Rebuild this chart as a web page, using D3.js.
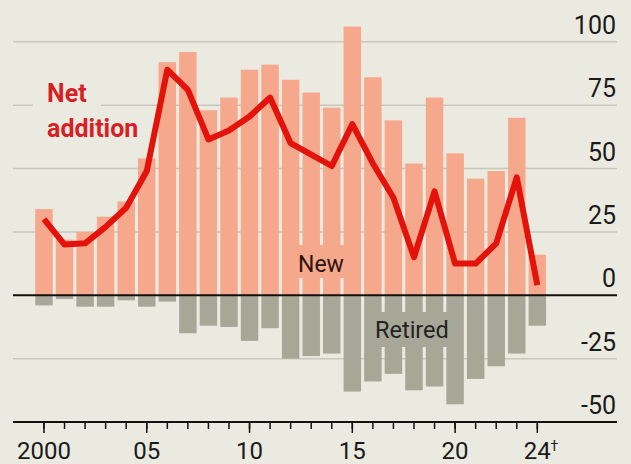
<!DOCTYPE html>
<html>
<head>
<meta charset="utf-8">
<script src="https://cdn.jsdelivr.net/npm/d3@7"></script>
<style>
  html, body { margin: 0; padding: 0; background: #ebeae0; }
  svg { display: block; font-family: Roboto, "Noto Sans", sans-serif; }
</style>
</head>
<body>
<div id="chart"></div>
<script>
  // 1. Data

  const years = [2000, 2001, 2002, 2003, 2004, 2005, 2006, 2007, 2008, 2009,
    2010, 2011, 2012, 2013, 2014, 2015, 2016, 2017, 2018, 2019,
    2020, 2021, 2022, 2023, 2024]
  const newPlants = [34, 22, 25, 31, 37, 54, 92, 96, 73, 78,
    89, 91, 85, 80, 74, 106, 86, 69, 52, 78,
    56, 46, 49, 70, 16]
  const retiredPlants = [-4, -1.5, -4.5, -4.5, -2, -4.5, -2.5, -15, -12, -12.5,
    -18, -13, -25, -24, -23, -38, -34, -31, -37.5, -36,
    -43, -33, -28, -23, -12]
  const netAddition = [30, 20, 20.5, 27, 34.5, 49, 89, 81, 61.5, 65,
    70.5, 78, 60, 55.5, 51, 67.5, 52, 38.5, 15, 41,
    12.5, 12.5, 20.5, 46.5, 4]
  const yTicks = [100, 75, 50, 25, 0, -25, -50]
  const xMajor = [2000, 2005, 2010, 2015, 2020, 2024]
  const xLabels = ["2000", "05", "10", "15", "20", "24"]

  const dataset = years.map((year, i) => ({
    year,
    added: newPlants[i],
    retired: retiredPlants[i],
    net: netAddition[i],
  }))

  // 2. Dimensions

  const dimensions = {
    width: 631,
    height: 464,
    gridLeft: 13,
    gridRight: 617,
  }

  const colors = {
    bg: "#ebeae0",
    added: "#f6a88c",
    retired: "#a7a797",
    line: "#e3120b",
    label: "#d71f26",
    grid: "#c9c7bc",
  }

  // 3. Canvas

  const wrapper = d3.select("#chart")
    .append("svg")
      .attr("width", dimensions.width)
      .attr("height", dimensions.height)

  wrapper.append("rect")
      .attr("width", dimensions.width)
      .attr("height", dimensions.height)
      .attr("fill", colors.bg)

  // 4. Scales

  const xScale = d3.scaleBand()
    .domain(years)
    .range([33.7, 547.6])
    .paddingInner(0.15)
    .paddingOuter(0.075)

  const xCenter = d => xScale(d) + xScale.bandwidth() / 2

  const yScale = d3.scaleLinear()
    .domain([-50, 100])
    .range([422, 41.8])

  // 5. Gridlines and y labels

  const grid = wrapper.append("g")

  grid.selectAll("line")
    .data(yTicks.filter(d => d !== 0 && d !== -50))
    .join("line")
      .attr("x1", dimensions.gridLeft)
      .attr("x2", dimensions.gridRight)
      .attr("y1", d => yScale(d))
      .attr("y2", d => yScale(d))
      .attr("stroke", colors.grid)
      .attr("stroke-width", 1.5)

  // gap in the 75 gridline behind the label
  wrapper.append("rect")
      .attr("x", 33)
      .attr("y", yScale(75) - 4)
      .attr("width", 68)
      .attr("height", 8)
      .attr("fill", colors.bg)

  grid.selectAll("text")
    .data(yTicks)
    .join("text")
      .attr("x", 616)
      .attr("y", d => yScale(d) - 8)
      .attr("text-anchor", "end")
      .attr("font-size", 25)
      .attr("fill", "#1a1a1a")
      .text(d => d)

  // 6. Bars

  wrapper.append("g")
    .selectAll("rect")
    .data(dataset)
    .join("rect")
      .attr("x", d => xScale(d.year))
      .attr("width", xScale.bandwidth())
      .attr("y", d => yScale(d.added))
      .attr("height", d => yScale(0) - yScale(d.added))
      .attr("fill", colors.added)

  wrapper.append("g")
    .selectAll("rect")
    .data(dataset)
    .join("rect")
      .attr("x", d => xScale(d.year))
      .attr("width", xScale.bandwidth())
      .attr("y", yScale(0))
      .attr("height", d => yScale(d.retired) - yScale(0))
      .attr("fill", colors.retired)

  // bar labels with a halo box of the bar colour
  wrapper.append("rect")
      .attr("x", 291).attr("y", 245)
      .attr("width", 61).attr("height", 33)
      .attr("fill", colors.added)
  wrapper.append("text")
      .attr("x", 298).attr("y", 272)
      .attr("font-size", 23)
      .attr("fill", "#2b140c")
      .text("New")

  wrapper.append("rect")
      .attr("x", 366).attr("y", 312)
      .attr("width", 96).attr("height", 35)
      .attr("fill", colors.retired)
  wrapper.append("text")
      .attr("x", 375).attr("y", 337.5)
      .attr("font-size", 23.5)
      .attr("fill", "#222")
      .text("Retired")

  // 7. Zero line and x axis

  wrapper.append("line")
      .attr("x1", dimensions.gridLeft)
      .attr("x2", dimensions.gridRight)
      .attr("y1", yScale(0))
      .attr("y2", yScale(0))
      .attr("stroke", "#111")
      .attr("stroke-width", 2)

  const minorAxis = d3.axisBottom(xScale)
    .tickSize(7)
    .tickFormat("")

  wrapper.append("g")
      .attr("transform", `translate(0, ${yScale(-50)})`)
    .call(minorAxis)
    .call(g => g.select(".domain").remove())
    .call(g => g.selectAll(".tick line").attr("stroke", "#111").attr("stroke-width", 1.5))

  const majorAxis = d3.axisBottom(xScale)
    .tickValues(xMajor)
    .tickSize(11)
    .tickPadding(9)
    .tickFormat(d => xLabels[xMajor.indexOf(d)])

  const xAxis = wrapper.append("g")
      .attr("transform", `translate(0, ${yScale(-50)})`)
    .call(majorAxis)
    .call(g => g.select(".domain").remove())
    .call(g => g.selectAll(".tick line").attr("stroke", "#111").attr("stroke-width", 1.5))

  xAxis.selectAll(".tick text")
      .attr("font-family", "Roboto, sans-serif")
      .attr("font-size", 24)
      .attr("fill", "#1a1a1a")

  xAxis.append("text")
      .attr("x", xCenter(2024) + 17)
      .attr("y", 29)
      .attr("font-family", "Roboto, sans-serif")
      .attr("font-size", 14)
      .attr("fill", "#1a1a1a")
      .text("†")

  wrapper.append("line")
      .attr("x1", dimensions.gridLeft)
      .attr("x2", dimensions.gridRight)
      .attr("y1", yScale(-50))
      .attr("y2", yScale(-50))
      .attr("stroke", "#111")
      .attr("stroke-width", 2)

  // 8. Net addition line

  const lineGenerator = d3.line()
    .x(d => xCenter(d.year))
    .y(d => yScale(d.net))

  wrapper.append("path")
      .attr("d", lineGenerator(dataset))
      .attr("fill", "none")
      .attr("stroke", colors.line)
      .attr("stroke-width", 6)
      .attr("stroke-linejoin", "round")

  const netLabel = wrapper.append("text")
      .attr("font-size", 25)
      .attr("font-weight", "bold")
      .attr("fill", colors.label)

  netLabel.append("tspan").attr("x", 47).attr("y", 101.5).text("Net")
  netLabel.append("tspan").attr("x", 47).attr("y", 136.5).text("addition")
</script>
</body>
</html>
